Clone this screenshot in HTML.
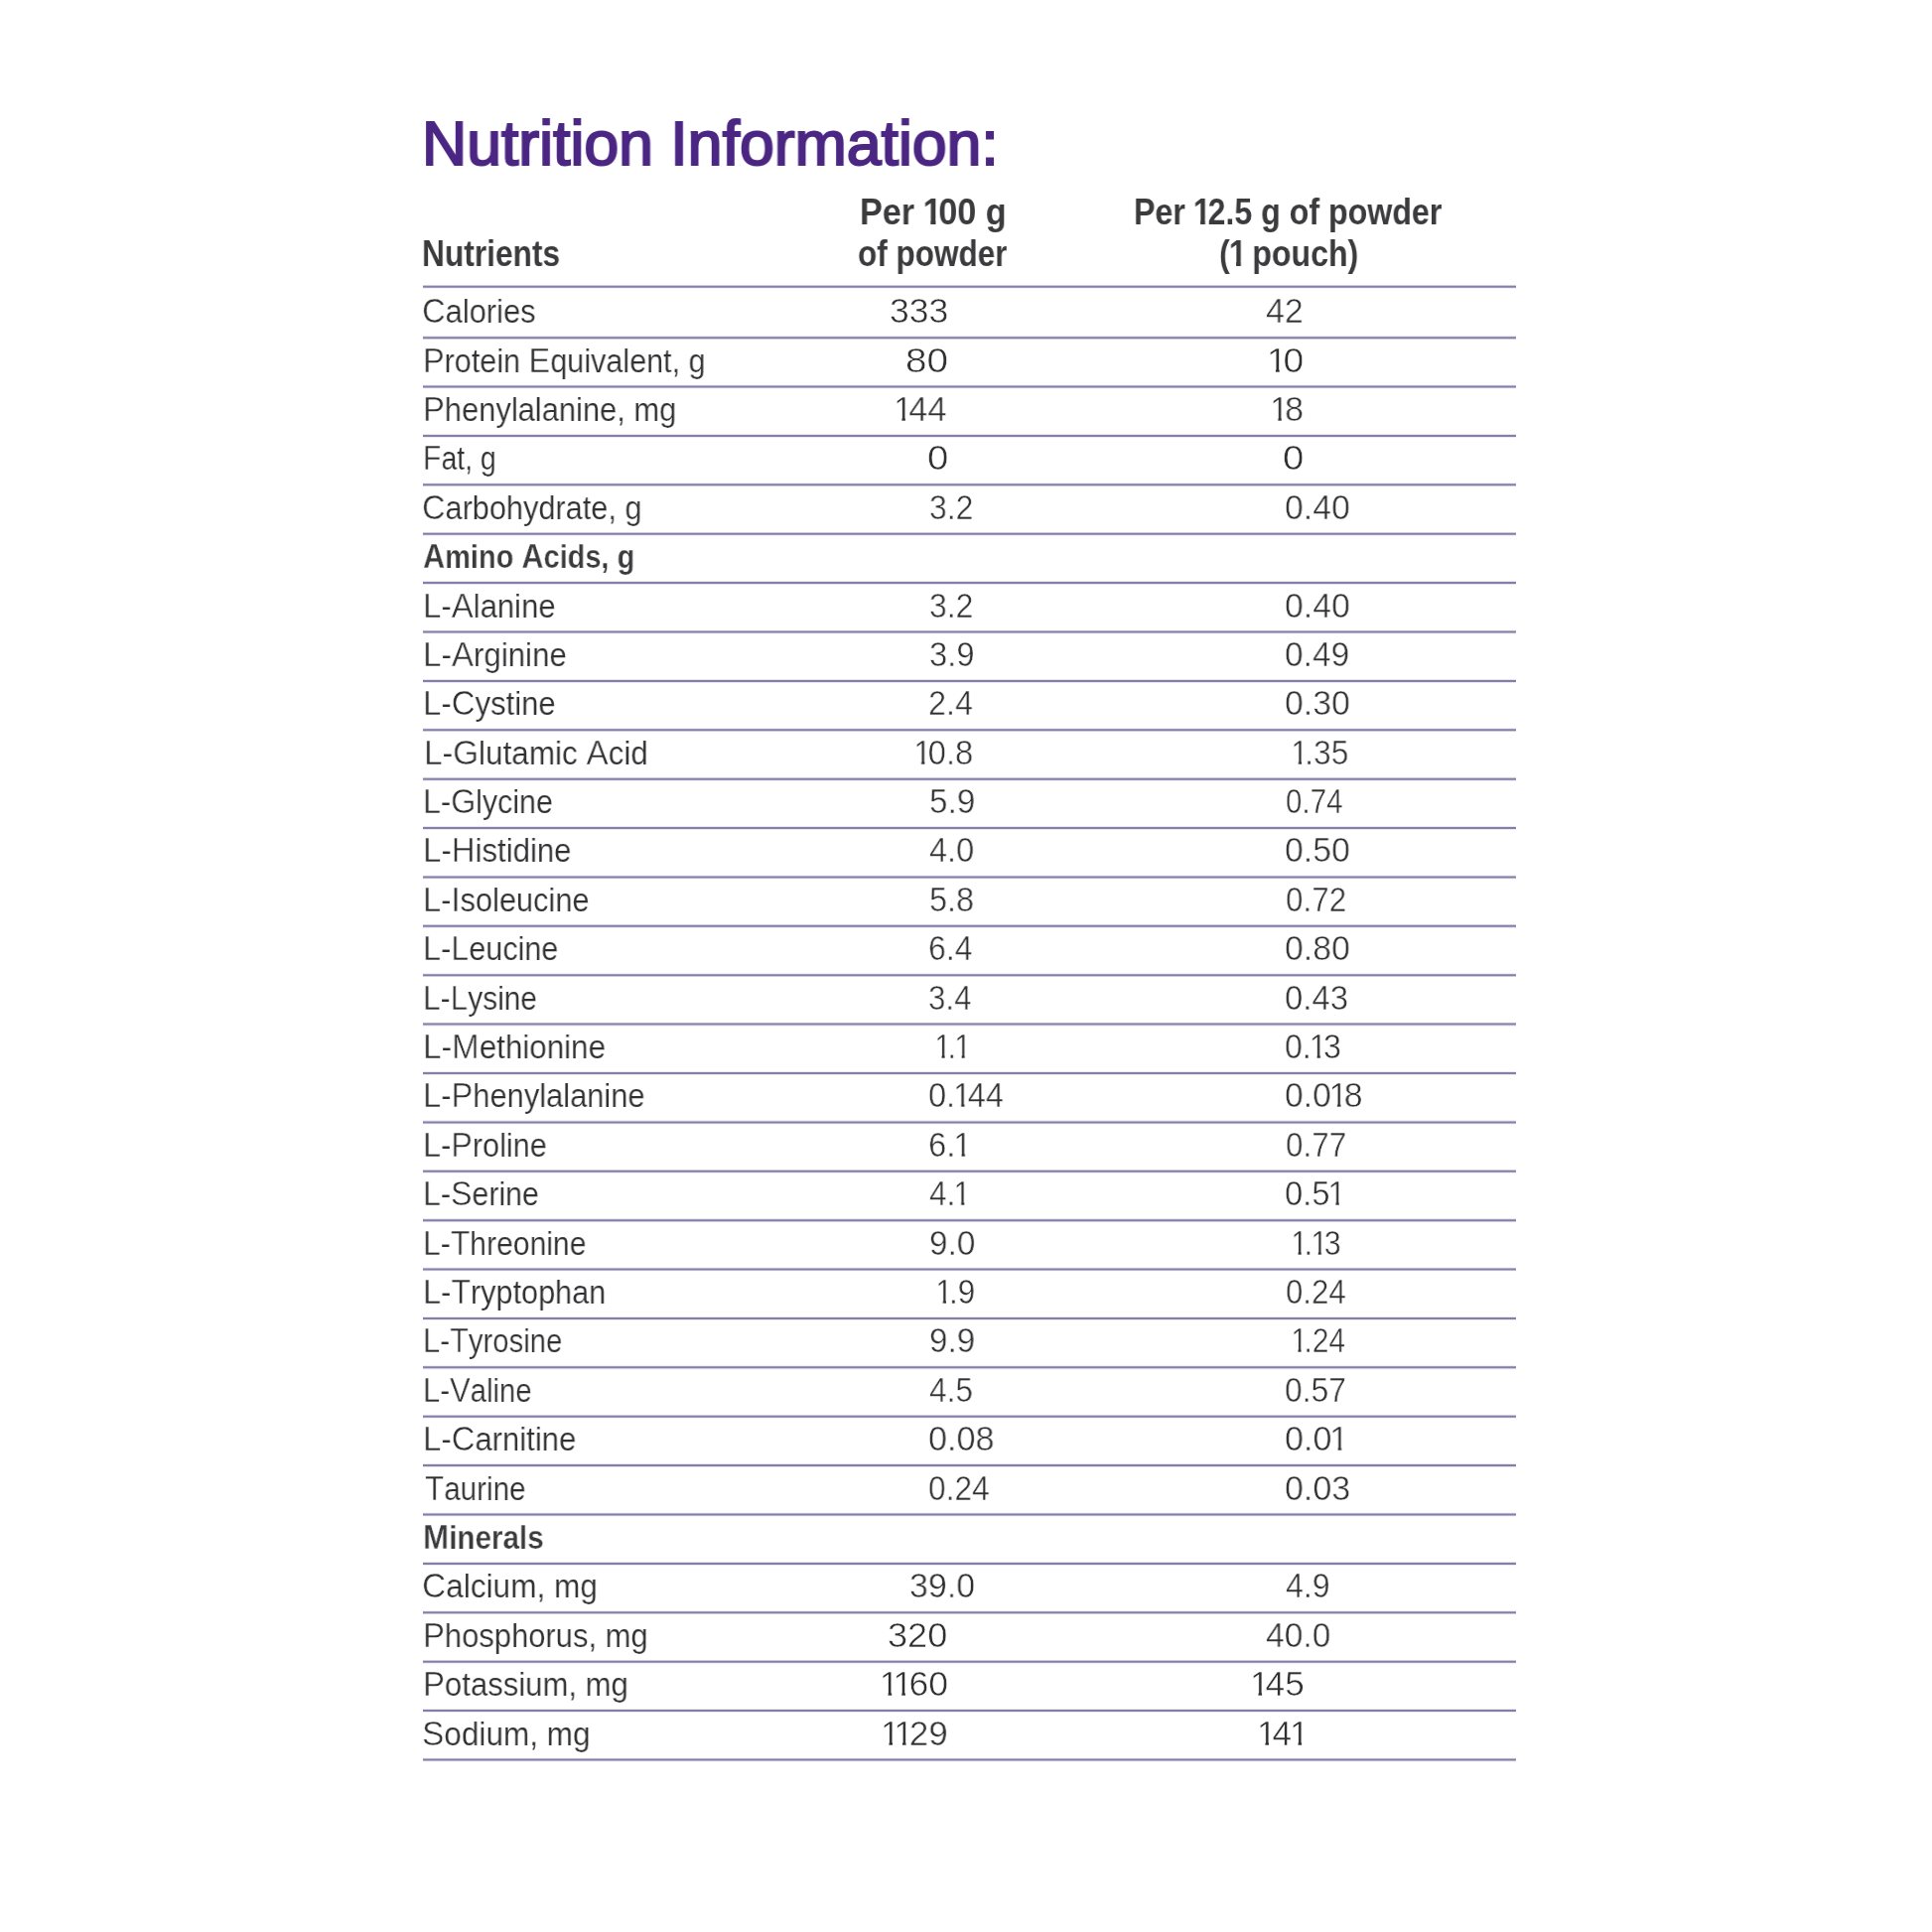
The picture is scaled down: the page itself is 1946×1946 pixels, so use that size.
<!DOCTYPE html>
<html lang="en"><head><meta charset="utf-8"><title>Nutrition Information</title>
<style>
html,body{margin:0;padding:0;background:#fff}
body{width:1946px;height:1946px;position:relative;overflow:hidden;font-family:"Liberation Sans",sans-serif;color:#3b3b3d}
.lines{position:absolute;left:0;top:0}
.t{position:absolute;white-space:nowrap;line-height:1;transform-origin:0 0;will-change:transform}
.r{color:#303032;font-size:33.0px;font-weight:normal;-webkit-text-stroke:0.2px #fff}
.b{font-size:33.0px;font-weight:bold;-webkit-text-stroke:0.25px #fff}
.b .c{-webkit-text-stroke:0.35px #fff}
.hd{font-size:36.0px;font-weight:bold}
.ttl{font-size:63.0px;font-weight:normal;color:#4b2683;-webkit-text-stroke:2.1px #4b2683}
.n{color:#303032;font-size:35.0px;font-weight:normal;-webkit-text-stroke:0.5px #fff}
.c{font-size:35px;line-height:0;-webkit-text-stroke:0.5px #fff}
.o{display:inline-block;margin-left:-0.06em;margin-right:-0.11em;clip-path:polygon(0 0,100% 0,100% 0.74em,0.346em 0.74em,0.346em 1em,0.246em 1em,0.246em 0.74em,0 0.74em)}
.hd .o{margin-left:-0.03em;margin-right:-0.1em;clip-path:polygon(0 0,100% 0,100% 0.71em,0.377em 0.71em,0.377em 1em,0.227em 1em,0.227em 0.71em,0 0.71em)}
</style></head><body>
<svg class="lines" width="1946" height="1946" viewBox="0 0 1946 1946"><g stroke="#8380a8" stroke-opacity="0.22" stroke-width="3.6" fill="none"><line x1="426.0" y1="288.80" x2="1527.0" y2="288.80"/><line x1="426.0" y1="340.15" x2="1527.0" y2="340.15"/><line x1="426.0" y1="389.54" x2="1527.0" y2="389.54"/><line x1="426.0" y1="438.93" x2="1527.0" y2="438.93"/><line x1="426.0" y1="488.32" x2="1527.0" y2="488.32"/><line x1="426.0" y1="537.71" x2="1527.0" y2="537.71"/><line x1="426.0" y1="587.10" x2="1527.0" y2="587.10"/><line x1="426.0" y1="636.49" x2="1527.0" y2="636.49"/><line x1="426.0" y1="685.88" x2="1527.0" y2="685.88"/><line x1="426.0" y1="735.27" x2="1527.0" y2="735.27"/><line x1="426.0" y1="784.66" x2="1527.0" y2="784.66"/><line x1="426.0" y1="834.05" x2="1527.0" y2="834.05"/><line x1="426.0" y1="883.44" x2="1527.0" y2="883.44"/><line x1="426.0" y1="932.83" x2="1527.0" y2="932.83"/><line x1="426.0" y1="982.22" x2="1527.0" y2="982.22"/><line x1="426.0" y1="1031.61" x2="1527.0" y2="1031.61"/><line x1="426.0" y1="1081.00" x2="1527.0" y2="1081.00"/><line x1="426.0" y1="1130.39" x2="1527.0" y2="1130.39"/><line x1="426.0" y1="1179.78" x2="1527.0" y2="1179.78"/><line x1="426.0" y1="1229.17" x2="1527.0" y2="1229.17"/><line x1="426.0" y1="1278.56" x2="1527.0" y2="1278.56"/><line x1="426.0" y1="1327.95" x2="1527.0" y2="1327.95"/><line x1="426.0" y1="1377.34" x2="1527.0" y2="1377.34"/><line x1="426.0" y1="1426.73" x2="1527.0" y2="1426.73"/><line x1="426.0" y1="1476.12" x2="1527.0" y2="1476.12"/><line x1="426.0" y1="1525.51" x2="1527.0" y2="1525.51"/><line x1="426.0" y1="1574.90" x2="1527.0" y2="1574.90"/><line x1="426.0" y1="1624.29" x2="1527.0" y2="1624.29"/><line x1="426.0" y1="1673.68" x2="1527.0" y2="1673.68"/><line x1="426.0" y1="1723.07" x2="1527.0" y2="1723.07"/><line x1="426.0" y1="1772.46" x2="1527.0" y2="1772.46"/></g><g stroke="#8380a8" stroke-width="2" fill="none"><line x1="426.0" y1="288.80" x2="1527.0" y2="288.80"/><line x1="426.0" y1="340.15" x2="1527.0" y2="340.15"/><line x1="426.0" y1="389.54" x2="1527.0" y2="389.54"/><line x1="426.0" y1="438.93" x2="1527.0" y2="438.93"/><line x1="426.0" y1="488.32" x2="1527.0" y2="488.32"/><line x1="426.0" y1="537.71" x2="1527.0" y2="537.71"/><line x1="426.0" y1="587.10" x2="1527.0" y2="587.10"/><line x1="426.0" y1="636.49" x2="1527.0" y2="636.49"/><line x1="426.0" y1="685.88" x2="1527.0" y2="685.88"/><line x1="426.0" y1="735.27" x2="1527.0" y2="735.27"/><line x1="426.0" y1="784.66" x2="1527.0" y2="784.66"/><line x1="426.0" y1="834.05" x2="1527.0" y2="834.05"/><line x1="426.0" y1="883.44" x2="1527.0" y2="883.44"/><line x1="426.0" y1="932.83" x2="1527.0" y2="932.83"/><line x1="426.0" y1="982.22" x2="1527.0" y2="982.22"/><line x1="426.0" y1="1031.61" x2="1527.0" y2="1031.61"/><line x1="426.0" y1="1081.00" x2="1527.0" y2="1081.00"/><line x1="426.0" y1="1130.39" x2="1527.0" y2="1130.39"/><line x1="426.0" y1="1179.78" x2="1527.0" y2="1179.78"/><line x1="426.0" y1="1229.17" x2="1527.0" y2="1229.17"/><line x1="426.0" y1="1278.56" x2="1527.0" y2="1278.56"/><line x1="426.0" y1="1327.95" x2="1527.0" y2="1327.95"/><line x1="426.0" y1="1377.34" x2="1527.0" y2="1377.34"/><line x1="426.0" y1="1426.73" x2="1527.0" y2="1426.73"/><line x1="426.0" y1="1476.12" x2="1527.0" y2="1476.12"/><line x1="426.0" y1="1525.51" x2="1527.0" y2="1525.51"/><line x1="426.0" y1="1574.90" x2="1527.0" y2="1574.90"/><line x1="426.0" y1="1624.29" x2="1527.0" y2="1624.29"/><line x1="426.0" y1="1673.68" x2="1527.0" y2="1673.68"/><line x1="426.0" y1="1723.07" x2="1527.0" y2="1723.07"/><line x1="426.0" y1="1772.46" x2="1527.0" y2="1772.46"/></g></svg>
<div id="h0" class="t ttl" style="left:424.97px;top:113px;transform:scaleX(0.9931)">Nutrition Information:</div>
<div id="h1" class="t hd" style="left:425.05px;top:238px;transform:scaleX(0.8803)">Nutrients</div>
<div id="h2" class="t hd" style="left:865.73px;top:196px;transform:scaleX(0.9495)">Per <span class="o">1</span>00 g</div>
<div id="h3" class="t hd" style="left:864.08px;top:238px;transform:scaleX(0.8749)">of powder</div>
<div id="h4" class="t hd" style="left:1142.39px;top:196px;transform:scaleX(0.8929)">Per <span class="o">1</span>2.5 g of powder</div>
<div id="h5" class="t hd" style="left:1228.46px;top:238px;transform:scaleX(0.8921)">(<span class="o">1</span> pouch)</div>
<div id="a0" class="t r" style="left:425.46px;top:297px;transform:scaleX(0.9352)"><span class="c">C</span>alories</div>
<div id="b0" class="t n" style="left:895.71px;top:295px;transform:scaleX(1.0164)">333</div>
<div id="c0" class="t n" style="left:1275.08px;top:295px;transform:scaleX(0.9675)">42</div>
<div id="a1" class="t r" style="left:426.15px;top:347px;transform:scaleX(0.9265)"><span class="c">P</span>rotein <span class="c">E</span>quivalent, g</div>
<div id="b1" class="t n" style="left:912.31px;top:345px;transform:scaleX(1.1072)">80</div>
<div id="c1" class="t n" style="left:1277.79px;top:345px;transform:scaleX(1.0637)"><span class="o">1</span>0</div>
<div id="a2" class="t r" style="left:426.02px;top:396px;transform:scaleX(0.9356)"><span class="c">P</span>henylalanine, mg</div>
<div id="b2" class="t n" style="left:901.76px;top:394px;transform:scaleX(0.9824)"><span class="o">1</span>44</div>
<div id="c2" class="t n" style="left:1280.71px;top:394px;transform:scaleX(0.9721)"><span class="o">1</span>8</div>
<div id="a3" class="t r" style="left:426.34px;top:445px;transform:scaleX(0.8603)"><span class="c">F</span>at, g</div>
<div id="b3" class="t n" style="left:934.07px;top:443px;transform:scaleX(1.0970)">0</div>
<div id="c3" class="t n" style="left:1292.38px;top:443px;transform:scaleX(1.0970)">0</div>
<div id="a4" class="t r" style="left:425.47px;top:495px;transform:scaleX(0.9302)"><span class="c">C</span>arbohydrate, g</div>
<div id="b4" class="t n" style="left:935.74px;top:493px;transform:scaleX(0.9097)">3.2</div>
<div id="c4" class="t n" style="left:1294.27px;top:493px;transform:scaleX(0.9653)">0.40</div>
<div id="a5" class="t b" style="left:426.41px;top:544px;transform:scaleX(0.8773)"><span class="c">A</span>mino <span class="c">A</span>cids, g</div>
<div id="a6" class="t r" style="left:425.99px;top:594px;transform:scaleX(0.9418)"><span class="c">L</span>-<span class="c">A</span>lanine</div>
<div id="b6" class="t n" style="left:935.74px;top:592px;transform:scaleX(0.9097)">3.2</div>
<div id="c6" class="t n" style="left:1294.27px;top:592px;transform:scaleX(0.9653)">0.40</div>
<div id="a7" class="t r" style="left:425.99px;top:643px;transform:scaleX(0.9473)"><span class="c">L</span>-<span class="c">A</span>rginine</div>
<div id="b7" class="t n" style="left:935.84px;top:641px;transform:scaleX(0.9352)">3.9</div>
<div id="c7" class="t n" style="left:1293.66px;top:641px;transform:scaleX(0.9560)">0.49</div>
<div id="a8" class="t r" style="left:425.99px;top:692px;transform:scaleX(0.9418)"><span class="c">L</span>-<span class="c">C</span>ystine</div>
<div id="b8" class="t n" style="left:934.66px;top:690px;transform:scaleX(0.9238)">2.4</div>
<div id="c8" class="t n" style="left:1294.27px;top:690px;transform:scaleX(0.9653)">0.30</div>
<div id="a9" class="t r" style="left:426.65px;top:742px;transform:scaleX(0.9533)"><span class="c">L</span>-<span class="c">G</span>lutamic <span class="c">A</span>cid</div>
<div id="b9" class="t n" style="left:922.15px;top:740px;transform:scaleX(0.9361)"><span class="o">1</span>0.8</div>
<div id="c9" class="t n" style="left:1301.80px;top:740px;transform:scaleX(0.9061)"><span class="o">1</span>.35</div>
<div id="a10" class="t r" style="left:426.14px;top:791px;transform:scaleX(0.9211)"><span class="c">L</span>-<span class="c">G</span>lycine</div>
<div id="b10" class="t n" style="left:936.05px;top:789px;transform:scaleX(0.9504)">5.9</div>
<div id="c10" class="t n" style="left:1294.71px;top:789px;transform:scaleX(0.8430)">0.74</div>
<div id="a11" class="t r" style="left:426.00px;top:840px;transform:scaleX(0.9436)"><span class="c">L</span>-<span class="c">H</span>istidine</div>
<div id="b11" class="t n" style="left:936.43px;top:838px;transform:scaleX(0.9260)">4.0</div>
<div id="c11" class="t n" style="left:1294.27px;top:838px;transform:scaleX(0.9653)">0.50</div>
<div id="a12" class="t r" style="left:426.02px;top:890px;transform:scaleX(0.9328)"><span class="c">L</span>-<span class="c">I</span>soleucine</div>
<div id="b12" class="t n" style="left:935.58px;top:888px;transform:scaleX(0.9248)">5.8</div>
<div id="c12" class="t n" style="left:1294.56px;top:888px;transform:scaleX(0.8976)">0.72</div>
<div id="a13" class="t r" style="left:426.08px;top:939px;transform:scaleX(0.9262)"><span class="c">L</span>-<span class="c">L</span>eucine</div>
<div id="b13" class="t n" style="left:934.59px;top:937px;transform:scaleX(0.9140)">6.4</div>
<div id="c13" class="t n" style="left:1294.27px;top:937px;transform:scaleX(0.9653)">0.80</div>
<div id="a14" class="t r" style="left:426.18px;top:989px;transform:scaleX(0.9055)"><span class="c">L</span>-<span class="c">L</span>ysine</div>
<div id="b14" class="t n" style="left:935.36px;top:987px;transform:scaleX(0.8936)">3.4</div>
<div id="c14" class="t n" style="left:1293.65px;top:987px;transform:scaleX(0.9392)">0.43</div>
<div id="a15" class="t r" style="left:425.96px;top:1038px;transform:scaleX(0.9508)"><span class="c">L</span>-<span class="c">M</span>ethionine</div>
<div id="b15" class="t n" style="left:943.34px;top:1036px;transform:scaleX(0.8604)"><span class="o">1</span>.<span class="o">1</span></div>
<div id="c15" class="t n" style="left:1294.37px;top:1036px;transform:scaleX(0.9135)">0.<span class="o">1</span>3</div>
<div id="a16" class="t r" style="left:426.02px;top:1087px;transform:scaleX(0.9348)"><span class="c">L</span>-<span class="c">P</span>henylalanine</div>
<div id="b16" class="t n" style="left:934.80px;top:1085px;transform:scaleX(0.9289)">0.<span class="o">1</span>44</div>
<div id="c16" class="t n" style="left:1294.45px;top:1085px;transform:scaleX(0.9609)">0.0<span class="o">1</span>8</div>
<div id="a17" class="t r" style="left:426.14px;top:1137px;transform:scaleX(0.9273)"><span class="c">L</span>-<span class="c">P</span>roline</div>
<div id="b17" class="t n" style="left:934.61px;top:1135px;transform:scaleX(0.9390)">6.<span class="o">1</span></div>
<div id="c17" class="t n" style="left:1294.56px;top:1135px;transform:scaleX(0.8976)">0.77</div>
<div id="a18" class="t r" style="left:426.18px;top:1186px;transform:scaleX(0.9185)"><span class="c">L</span>-<span class="c">S</span>erine</div>
<div id="b18" class="t n" style="left:936.42px;top:1184px;transform:scaleX(0.9002)">4.<span class="o">1</span></div>
<div id="c18" class="t n" style="left:1293.66px;top:1184px;transform:scaleX(0.9336)">0.5<span class="o">1</span></div>
<div id="a19" class="t r" style="left:426.20px;top:1236px;transform:scaleX(0.9121)"><span class="c">L</span>-<span class="c">T</span>hreonine</div>
<div id="b19" class="t n" style="left:935.79px;top:1234px;transform:scaleX(0.9511)">9.0</div>
<div id="c19" class="t n" style="left:1302.49px;top:1234px;transform:scaleX(0.8651)"><span class="o">1</span>.<span class="o">1</span>3</div>
<div id="a20" class="t r" style="left:426.13px;top:1285px;transform:scaleX(0.9273)"><span class="c">L</span>-<span class="c">T</span>ryptophan</div>
<div id="b20" class="t n" style="left:943.83px;top:1283px;transform:scaleX(0.8921)"><span class="o">1</span>.9</div>
<div id="c20" class="t n" style="left:1294.60px;top:1283px;transform:scaleX(0.8901)">0.24</div>
<div id="a21" class="t r" style="left:426.25px;top:1334px;transform:scaleX(0.8862)"><span class="c">L</span>-<span class="c">T</span>yrosine</div>
<div id="b21" class="t n" style="left:935.75px;top:1332px;transform:scaleX(0.9481)">9.9</div>
<div id="c21" class="t n" style="left:1301.96px;top:1332px;transform:scaleX(0.8536)"><span class="o">1</span>.24</div>
<div id="a22" class="t r" style="left:426.33px;top:1384px;transform:scaleX(0.8868)"><span class="c">L</span>-<span class="c">V</span>aline</div>
<div id="b22" class="t n" style="left:936.42px;top:1382px;transform:scaleX(0.9021)">4.5</div>
<div id="c22" class="t n" style="left:1294.37px;top:1382px;transform:scaleX(0.9072)">0.57</div>
<div id="a23" class="t r" style="left:425.98px;top:1433px;transform:scaleX(0.9403)"><span class="c">L</span>-<span class="c">C</span>arnitine</div>
<div id="b23" class="t n" style="left:934.79px;top:1431px;transform:scaleX(0.9750)">0.08</div>
<div id="c23" class="t n" style="left:1293.97px;top:1431px;transform:scaleX(0.9730)">0.0<span class="o">1</span></div>
<div id="a24" class="t r" style="left:427.88px;top:1483px;transform:scaleX(0.8974)"><span class="c">T</span>aurine</div>
<div id="b24" class="t n" style="left:935.16px;top:1481px;transform:scaleX(0.9040)">0.24</div>
<div id="c24" class="t n" style="left:1294.19px;top:1481px;transform:scaleX(0.9701)">0.03</div>
<div id="a25" class="t b" style="left:425.93px;top:1532px;transform:scaleX(0.8973)"><span class="c">M</span>inerals</div>
<div id="a26" class="t r" style="left:425.44px;top:1581px;transform:scaleX(0.9568)"><span class="c">C</span>alcium, mg</div>
<div id="b26" class="t n" style="left:915.78px;top:1579px;transform:scaleX(0.9689)">39.0</div>
<div id="c26" class="t n" style="left:1295.49px;top:1579px;transform:scaleX(0.9164)">4.9</div>
<div id="a27" class="t r" style="left:426.05px;top:1631px;transform:scaleX(0.9380)"><span class="c">P</span>hosphorus, mg</div>
<div id="b27" class="t n" style="left:894.21px;top:1629px;transform:scaleX(1.0322)">320</div>
<div id="c27" class="t n" style="left:1275.09px;top:1629px;transform:scaleX(0.9581)">40.0</div>
<div id="a28" class="t r" style="left:426.06px;top:1680px;transform:scaleX(0.9416)"><span class="c">P</span>otassium, mg</div>
<div id="b28" class="t n" style="left:887.85px;top:1678px;transform:scaleX(1.0152)"><span class="o">1</span><span class="o">1</span>60</div>
<div id="c28" class="t n" style="left:1260.98px;top:1678px;transform:scaleX(1.0056)"><span class="o">1</span>45</div>
<div id="a29" class="t r" style="left:425.47px;top:1730px;transform:scaleX(0.9560)"><span class="c">S</span>odium, mg</div>
<div id="b29" class="t n" style="left:888.63px;top:1728px;transform:scaleX(0.9954)"><span class="o">1</span><span class="o">1</span>29</div>
<div id="c29" class="t n" style="left:1267.86px;top:1728px;transform:scaleX(1.0018)"><span class="o">1</span>4<span class="o">1</span></div>
</body></html>
